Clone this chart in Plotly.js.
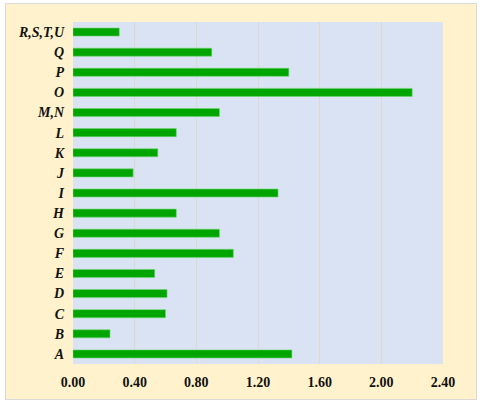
<!DOCTYPE html>
<html>
<head>
<meta charset="utf-8">
<script src="https://cdn.plot.ly/plotly-3.0.1.min.js"></script>
<style>
  body { margin: 0; background: #ffffff; }
  #frame { position: absolute; left: 5px; top: 3px; width: 470px; height: 395px;
           border: 1px solid #d9d9d9; background: #fff2cc; }
  #myDiv { width: 470px; height: 395px; }
</style>
</head>
<body>
<div id="frame"><div id="myDiv"></div></div>
<script>
var categories = ['A', 'B', 'C', 'D', 'E', 'F', 'G', 'H', 'I', 'J', 'K', 'L', 'M,N', 'O', 'P', 'Q', 'R,S,T,U'];
var values = [1.42, 0.24, 0.60, 0.61, 0.53, 1.04, 0.95, 0.67, 1.33, 0.39, 0.55, 0.67, 0.95, 2.20, 1.40, 0.90, 0.30];
var xTicks = [0, 0.4, 0.8, 1.2, 1.6, 2.0, 2.4];
var xTickText = ['0.00', '0.40', '0.80', '1.20', '1.60', '2.00', '2.40'];

var trace1 = {
    type: 'bar',
    orientation: 'h',
    x: values,
    y: categories,
    marker: {
        color: '#00a500',
        line: {color: '#6fd66f', width: 0.6}
    },
    hoverinfo: 'x+y'
};

var layout = {
    width: 470,
    height: 395,
    margin: {l: 67, r: 33, t: 18, b: 35},
    paper_bgcolor: '#fff2cc',
    plot_bgcolor: '#dae3f3',
    showlegend: false,
    bargap: 0.6,
    font: {family: '"Liberation Serif", "Times New Roman", serif', size: 14, color: '#111111'},
    xaxis: {
        range: [0, 2.4],
        tickvals: xTicks,
        ticktext: xTickText,
        showgrid: true,
        gridcolor: '#ddd9cc',
        gridwidth: 1,
        zeroline: false,
        showline: false,
        ticks: '',
        ticklabelstandoff: 8,
        tickfont: {weight: 'bold', size: 14}
    },
    yaxis: {
        type: 'category',
        categoryorder: 'array',
        categoryarray: categories,
        showgrid: false,
        zeroline: false,
        showline: false,
        ticks: '',
        ticklabelstandoff: 8,
        tickfont: {weight: 'bold', style: 'italic', size: 14}
    }
};

Plotly.newPlot('myDiv', [trace1], layout, {displayModeBar: false});
</script>
</body>
</html>
